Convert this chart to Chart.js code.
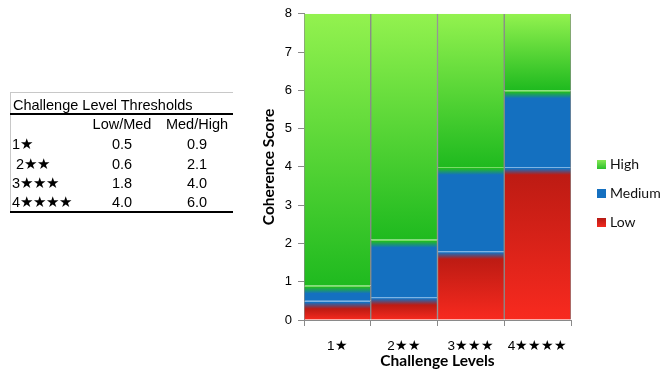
<!DOCTYPE html>
<html>
<head>
<meta charset="utf-8">
<script src="https://cdn.jsdelivr.net/npm/chart.js@4.4.1/dist/chart.umd.min.js"></script>
<style>
  html, body { margin:0; padding:0; background:#fff; }
  #wrap { position:relative; width:672px; height:374px; overflow:hidden; }
  #c { position:absolute; left:0; top:0; }
  .t { position:absolute; font-family:'Liberation Sans', Arial, sans-serif; font-size:14.5px; color:#000; height:16px; line-height:16px; white-space:pre; }
  .ctr { transform:translateX(-50%); }
  .ln { position:absolute; }
  .lg { position:absolute; font-family:Lato, 'Open Sans', sans-serif; font-size:14px; color:#111; height:16px; line-height:16px; }
  .lgbox { position:absolute; width:9px; height:9px; }
</style>
</head>
<body>
<div id="wrap">
  <canvas id="c" width="672" height="374"></canvas>
</div>
<script>
// ---- data ----
const categories = ['1\u2605', '2\u2605\u2605', '3\u2605\u2605\u2605', '4\u2605\u2605\u2605\u2605'];
const low    = [0.5, 0.6, 1.8, 4.0];
const medium = [0.4, 1.5, 2.2, 2.0];
const high   = [7.1, 5.9, 4.0, 2.0];
const yTicksMax = 8;

// threshold table
const tableTitle = 'Challenge Level Thresholds';
const tableHeaders = ['Low/Med', 'Med/High'];
const tableRowLabels = ['1\u2605', ' 2\u2605\u2605', '3\u2605\u2605\u2605', '4\u2605\u2605\u2605\u2605'];
const lowMedThresholds = ['0.5', '0.6', '1.8', '4.0'];
const medHighThresholds = ['0.9', '2.1', '4.0', '6.0'];

const seriesNames = ['Low', 'Medium', 'High'];

// ---- table (HTML) ----
const wrap = document.getElementById('wrap');
function addText(txt, x, yc, center) {
  const d = document.createElement('div');
  d.className = 't' + (center ? ' ctr' : '');
  d.textContent = txt;
  d.style.left = x + 'px';
  d.style.top = (yc - 8) + 'px';
  wrap.appendChild(d);
}
function addLine(x, y, w, h, col) {
  const d = document.createElement('div');
  d.className = 'ln';
  Object.assign(d.style, {left:x+'px', top:y+'px', width:w+'px', height:h+'px', background:col});
  wrap.appendChild(d);
}
addLine(10, 92, 223, 1, '#c8c8c8');
addLine(10, 92, 1, 121, '#c8c8c8');
addText(tableTitle, 13, 105, false);
addLine(10, 113, 223, 2, '#000');
addText(tableHeaders[0], 122, 124, true);
addText(tableHeaders[1], 197, 124, true);
const rowY = [144, 164, 183, 202];
tableRowLabels.forEach((lab, i) => {
  addText(lab, 12, rowY[i], false);
  addText(lowMedThresholds[i], 122, rowY[i], true);
  addText(medHighThresholds[i], 197, rowY[i], true);
});
addLine(10, 211, 223, 2, '#000');

// ---- legend (HTML) ----
const legendCols = {
  High: 'linear-gradient(#86e855, #2cbf2c)',
  Medium: '#1570c0',
  Low: 'linear-gradient(#b51a14, #f22a1f)'
};
['High', 'Medium', 'Low'].forEach((n, i) => {
  const yc = 164 + i * 29;
  const b = document.createElement('div');
  b.className = 'lgbox';
  b.style.left = '597px'; b.style.top = (yc - 4) + 'px';
  b.style.background = legendCols[n];
  wrap.appendChild(b);
  const t = document.createElement('div');
  t.className = 'lg';
  t.textContent = n;
  t.style.left = '610px'; t.style.top = (yc - 8) + 'px';
  wrap.appendChild(t);
});

// ---- gradients ----
const segStyle = [
  { top: '#bd1b13', bottom: '#f82a1f', upper: '#1570c0', line: '#7db3e3' },  // Low
  { top: '#1470c0', bottom: '#1470c0', upper: '#22bb22', line: '#78dc66' },  // Medium
  { top: '#93f24f', bottom: '#1fba1f', upper: null, line: null }             // High
];
const seriesData = [low, medium, high];

function segFill(dsIndex) {
  return function(ctx) {
    const st = segStyle[dsIndex];
    if (ctx.type !== 'data' || !ctx.chart.chartArea) return st.bottom;
    const i = ctx.dataIndex;
    let base = 0;
    for (let k = 0; k < dsIndex; k++) base += seriesData[k][i];
    const topV = base + seriesData[dsIndex][i];
    const ys = ctx.chart.scales.y;
    const pt = ys.getPixelForValue(topV), pb = ys.getPixelForValue(base);
    const h = Math.max(pb - pt, 1);
    const g = ctx.chart.ctx.createLinearGradient(0, pt, 0, pb);
    const f = px => Math.min(px / h, 1);
    if (st.upper && topV < yTicksMax) {
      g.addColorStop(0, st.line);
      g.addColorStop(f(1), st.line);
      g.addColorStop(f(1.6), st.upper);
      g.addColorStop(f(8), st.top);
    } else {
      g.addColorStop(0, st.top);
    }
    g.addColorStop(1, st.bottom);
    return g;
  };
}

const axisGray = '#8a8a8a';
new Chart(document.getElementById('c'), {
  type: 'bar',
  data: {
    labels: categories,
    datasets: seriesNames.map((n, k) => ({
      label: n,
      data: seriesData[k],
      backgroundColor: segFill(k),
      borderColor: axisGray,
      borderWidth: { left: 1, right: 1, top: 0, bottom: 0 },
      borderSkipped: false,
      barPercentage: 1,
      categoryPercentage: 1
    }))
  },
  options: {
    responsive: false,
    animation: false,
    devicePixelRatio: 1,
    layout: { padding: { left: 254, right: 101, top: 13, bottom: 4 } },
    plugins: { legend: { display: false }, tooltip: { enabled: false } },
    scales: {
      x: {
        stacked: true,
        offset: true,
        afterFit: s => { s.height = 50; },
        grid: { offset: true, drawOnChartArea: false, drawTicks: true, tickLength: 6, color: axisGray },
        border: { color: axisGray, width: 1 },
        ticks: { color: '#000', padding: 12, font: { family: "'Liberation Sans', Arial, sans-serif", size: 13.5 } },
        title: { display: true, text: 'Challenge Levels', color: '#000', padding: { top: 2, bottom: 0 }, font: { family: 'Lato, sans-serif', size: 15.5, weight: 'bold' } }
      },
      y: {
        stacked: true,
        min: 0,
        max: yTicksMax,
        afterFit: s => { s.width = 50; },
        grid: { drawOnChartArea: false, drawTicks: true, tickLength: 6, color: axisGray },
        border: { color: axisGray, width: 1 },
        ticks: { stepSize: 1, color: '#000', padding: 6, font: { family: "'Liberation Sans', Arial, sans-serif", size: 13 } },
        title: { display: true, text: 'Coherence Score', color: '#000', padding: { top: 6, bottom: 6 }, font: { family: 'Lato, sans-serif', size: 15.5, weight: 'bold' } }
      }
    }
  }
});
</script>
</body>
</html>
